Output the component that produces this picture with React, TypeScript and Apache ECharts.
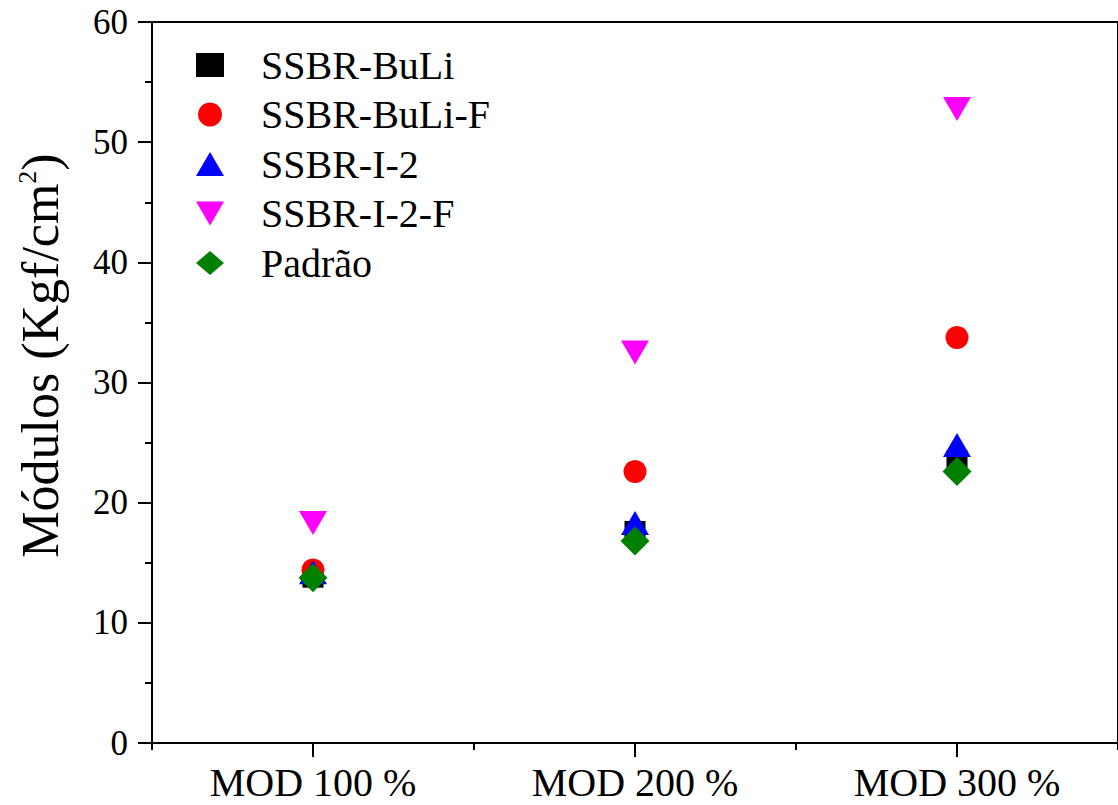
import React, { useEffect, useRef } from "react";
import * as echarts from "echarts";

const categories = ["MOD 100 %", "MOD 200 %", "MOD 300 %"];
const ssbrBuLi = [13.8, 17.6, 23.5];
const ssbrBuLiF = [14.4, 22.6, 33.75];
const ssbrI2 = [14.2, 18.3, 24.8];
const ssbrI2F = [18.3, 32.5, 52.75];
const padrao = [13.75, 16.8, 22.6];
const yTicks = { min: 0, max: 60, interval: 10 };

const FONT = "'Liberation Serif', 'Times New Roman', serif";
const INV_TRI = "path://M0,0L28,0L14,24Z";

export default function App() {
  const ref = useRef<HTMLDivElement>(null);
  useEffect(() => {
    const chart = echarts.init(ref.current!, null, { renderer: "svg" });
    const mk = (name: string, data: number[], symbol: string, size: any, color: string) => ({
      name,
      type: "scatter",
      data,
      symbol,
      symbolSize: size,
      symbolKeepAspect: false,
      itemStyle: { color, opacity: 1 },
      emphasis: { disabled: true },
    });
    chart.setOption({
      animation: false,
      backgroundColor: "#ffffff",
      grid: {
        left: 151,
        top: 22,
        width: 970,
        height: 721,
        show: true,
        borderColor: "#000",
        borderWidth: 2,
        backgroundColor: "transparent",
      },
      legend: {
        orient: "vertical",
        left: 191,
        top: 40,
        itemWidth: 28,
        itemHeight: 24,
        itemGap: 9.5,
        data: ["SSBR-BuLi", "SSBR-BuLi-F", "SSBR-I-2", "SSBR-I-2-F", "Padrão"],
        textStyle: {
          fontFamily: FONT,
          fontSize: 40,
          lineHeight: 40,
          color: "#000",
          padding: [0, 0, 0, 32],
        },
      },
      xAxis: [
        {
          type: "category",
          data: categories,
          boundaryGap: true,
          axisLine: { show: true, lineStyle: { color: "#000", width: 2 } },
          axisTick: { show: true, alignWithLabel: true, length: 14, lineStyle: { color: "#000", width: 2 } },
          axisLabel: { margin: 24, fontFamily: FONT, fontSize: 40, lineHeight: 30, color: "#000" },
          splitLine: { show: false },
        },
        {
          type: "category",
          data: categories,
          position: "bottom",
          boundaryGap: true,
          axisLine: { show: false },
          axisTick: { show: true, length: 7, lineStyle: { color: "#000", width: 2 } },
          axisLabel: { show: false },
          splitLine: { show: false },
        },
      ],
      yAxis: {
        type: "value",
        min: yTicks.min,
        max: yTicks.max,
        interval: yTicks.interval,
        axisLine: { show: true, lineStyle: { color: "#000", width: 2 } },
        axisTick: { show: true, length: 14, lineStyle: { color: "#000", width: 2 } },
        minorTick: { show: true, splitNumber: 2, length: 7, lineStyle: { color: "#000", width: 2 } },
        splitLine: { show: false },
        axisLabel: { margin: 24, fontFamily: FONT, fontSize: 35, color: "#000" },
        name: "{a|Módulos (Kgf/cm}{sup|2}{a|)}",
        nameLocation: "middle",
        nameGap: 86,
        nameTextStyle: {
          fontFamily: FONT,
          color: "#000",
          padding: [0, 0, 0, 54],
          rich: {
            a: { fontFamily: FONT, fontSize: 52, lineHeight: 52, color: "#000", verticalAlign: "bottom", padding: [6, 0, 0, 0] },
            sup: { fontFamily: FONT, fontSize: 26, lineHeight: 26, color: "#000", verticalAlign: "top" },
          },
        },
      },
      series: [
        mk("SSBR-BuLi", ssbrBuLi, "rect", 21, "#000000"),
        mk("SSBR-BuLi-F", ssbrBuLiF, "circle", 23, "#ff0000"),
        mk("SSBR-I-2", ssbrI2, "triangle", [28, 24], "#0000ff"),
        mk("SSBR-I-2-F", ssbrI2F, INV_TRI, [28, 24], "#ff00ff"),
        mk("Padrão", padrao, "diamond", [29, 29], "#008000"),
      ],
    });
    return () => chart.dispose();
  }, []);
  return (
    <div
      ref={ref}
      style={{ position: "absolute", left: 0, top: 0, width: 1118, height: 805 }}
    />
  );
}
